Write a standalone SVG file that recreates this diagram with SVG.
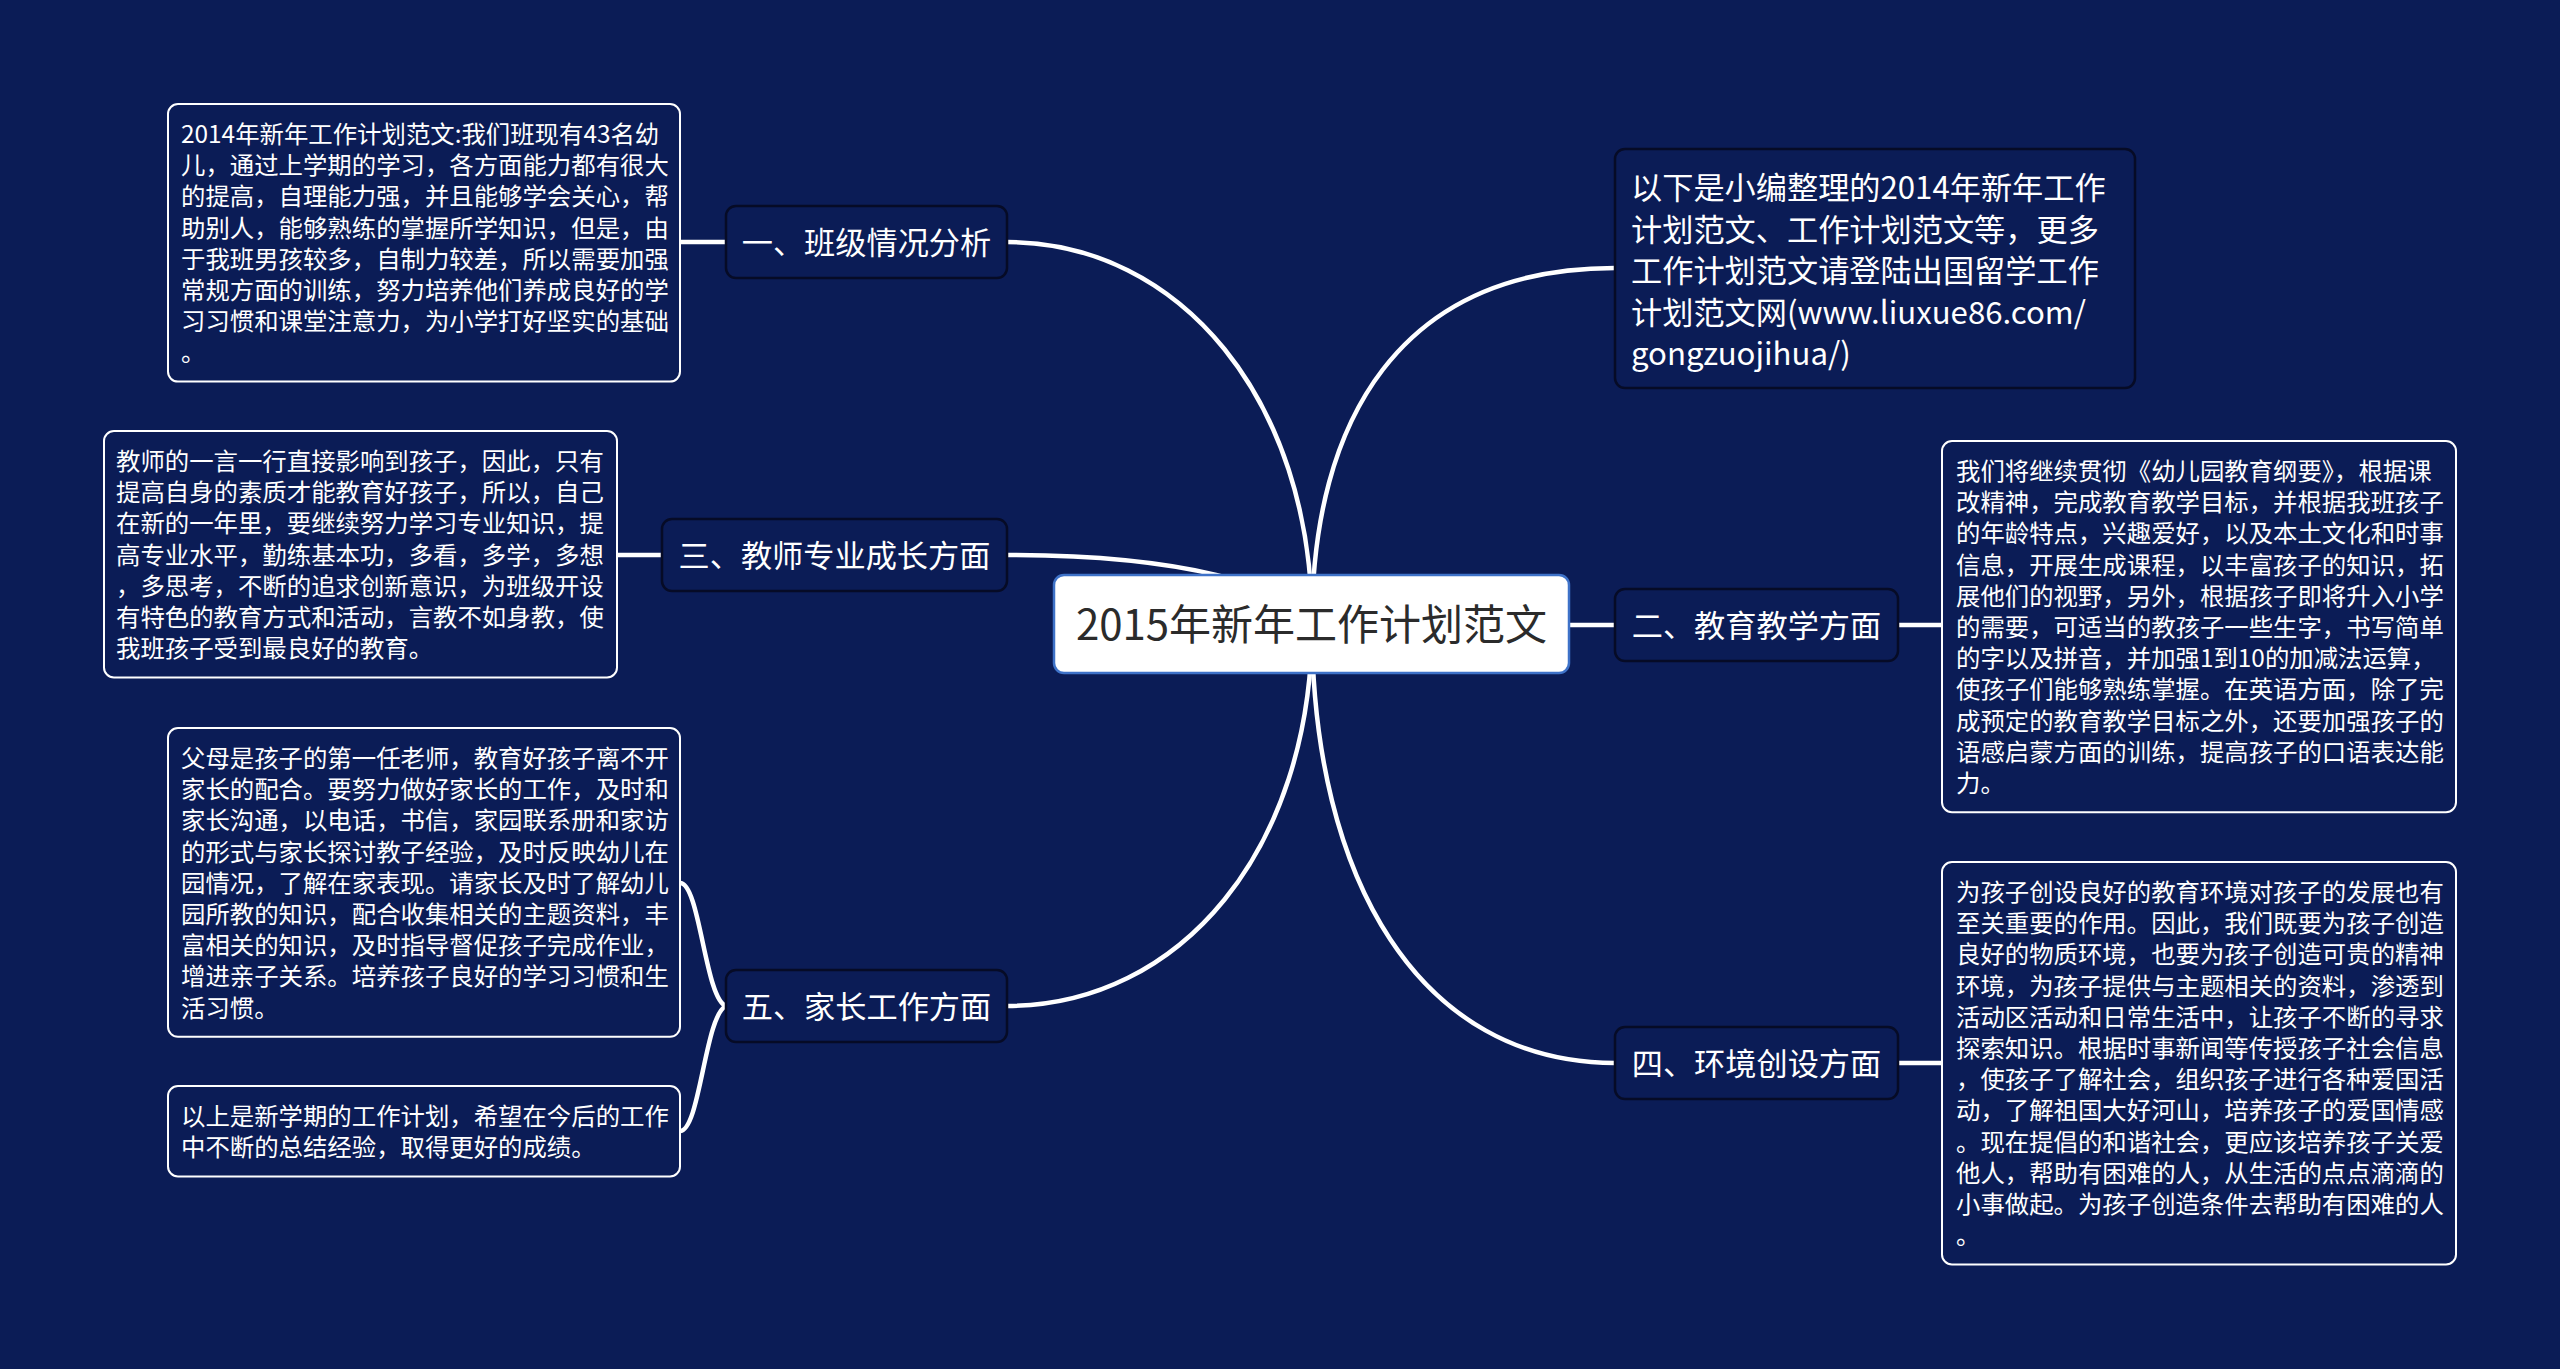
<svg xmlns="http://www.w3.org/2000/svg" width="2560" height="1369" viewBox="0 0 2560 1369">
<style>
.bg{fill:#0b1c56}
.conn{fill:none;stroke:#ffffff;stroke-width:4.5;stroke-linecap:round}
.leaf{fill:#0b1c56;stroke:#ffffff;stroke-width:2}
.branch{fill:#0b1c56;stroke:#060b26;stroke-width:2.5}
.root{fill:#ffffff;stroke:#3e72c8;stroke-width:2.5}
.lt{font-family:"Noto Sans CJK SC","Noto Sans",sans-serif;font-size:24.4px;fill:#ffffff}
.bt{font-family:"Noto Sans CJK SC","Noto Sans",sans-serif;font-size:31.2px;fill:#ffffff}
.rt{font-family:"Noto Sans CJK SC","Noto Sans",sans-serif;font-size:42px;fill:#2b2b2b}
</style>
<rect class="bg" x="0" y="0" width="2560" height="1369"/>
<g id="connectors">
<path class="conn" d="M1312,624 C1312,400 1180,242 1007,242"/>
<path class="conn" d="M1312,624 C1290,585 1180,555 1007,555"/>
<path class="conn" d="M1312,624 C1312,850 1180,1006 1007,1006"/>
<path class="conn" d="M1312,624 C1312,420 1400,268 1615,268"/>
<path class="conn" d="M1560,625 L1615,625"/>
<path class="conn" d="M1312,624 C1312,880 1420,1063 1615,1063"/>
<path class="conn" d="M726,242 L680,242"/>
<path class="conn" d="M662,555 L617,555"/>
<path class="conn" d="M726,1006 C705,999 700,883 680,883"/>
<path class="conn" d="M726,1006 C705,1015 700,1131 680,1131"/>
<path class="conn" d="M1898,625 L1942,625"/>
<path class="conn" d="M1898,1063 L1942,1063"/>
</g>
<g id="root">
<rect class="root" x="1054" y="575" width="515" height="98" rx="10"/>
<text class="rt" x="1311.5" y="640" text-anchor="middle">2015年新年工作计划范文</text>
</g>
<g id="branch1">
<rect class="branch" x="726" y="206" width="281" height="72" rx="10"/>
<text class="bt" x="866.5" y="253.9" text-anchor="middle">一、班级情况分析</text>
</g>
<g id="branch3">
<rect class="branch" x="662" y="519" width="345" height="72" rx="10"/>
<text class="bt" x="834.5" y="566.9" text-anchor="middle">三、教师专业成长方面</text>
</g>
<g id="branch5">
<rect class="branch" x="726" y="970" width="281" height="72" rx="10"/>
<text class="bt" x="866.5" y="1017.9" text-anchor="middle">五、家长工作方面</text>
</g>
<g id="branch2">
<rect class="branch" x="1615" y="589" width="283" height="72" rx="10"/>
<text class="bt" x="1756.5" y="636.9" text-anchor="middle">二、教育教学方面</text>
</g>
<g id="branch4">
<rect class="branch" x="1615" y="1027" width="283" height="72" rx="10"/>
<text class="bt" x="1756.5" y="1074.9" text-anchor="middle">四、环境创设方面</text>
</g>
<g id="intro">
<rect class="branch" x="1615" y="149" width="520" height="239" rx="10"/>
<text class="bt" x="1631" y="198.9"><tspan x="1631">以下是小编整理的2014年新年工作</tspan><tspan x="1631" dy="41.6">计划范文、工作计划范文等，更多</tspan><tspan x="1631" dy="41.6">工作计划范文请登陆出国留学工作</tspan><tspan x="1631" dy="41.6">计划范文网(www.liuxue86.com/</tspan><tspan x="1631" dy="41.6">gongzuojihua/)</tspan></text>
</g>
<g id="leaf1">
<rect class="leaf" x="168" y="104" width="512" height="277.6" rx="10"/>
<text class="lt" x="181" y="142.9"><tspan x="181">2014年新年工作计划范文:我们班现有43名幼</tspan><tspan x="181" dy="31.2">儿，通过上学期的学习，各方面能力都有很大</tspan><tspan x="181" dy="31.2">的提高，自理能力强，并且能够学会关心，帮</tspan><tspan x="181" dy="31.2">助别人，能够熟练的掌握所学知识，但是，由</tspan><tspan x="181" dy="31.2">于我班男孩较多，自制力较差，所以需要加强</tspan><tspan x="181" dy="31.2">常规方面的训练，努力培养他们养成良好的学</tspan><tspan x="181" dy="31.2">习习惯和课堂注意力，为小学打好坚实的基础</tspan><tspan x="181" dy="31.2">。</tspan></text>
</g>
<g id="leaf3">
<rect class="leaf" x="104" y="431" width="513" height="246.4" rx="10"/>
<text class="lt" x="116" y="469.9"><tspan x="116">教师的一言一行直接影响到孩子，因此，只有</tspan><tspan x="116" dy="31.2">提高自身的素质才能教育好孩子，所以，自己</tspan><tspan x="116" dy="31.2">在新的一年里，要继续努力学习专业知识，提</tspan><tspan x="116" dy="31.2">高专业水平，勤练基本功，多看，多学，多想</tspan><tspan x="116" dy="31.2">，多思考，不断的追求创新意识，为班级开设</tspan><tspan x="116" dy="31.2">有特色的教育方式和活动，言教不如身教，使</tspan><tspan x="116" dy="31.2">我班孩子受到最良好的教育。</tspan></text>
</g>
<g id="leaf5a">
<rect class="leaf" x="168" y="728" width="512" height="308.8" rx="10"/>
<text class="lt" x="181" y="766.9"><tspan x="181">父母是孩子的第一任老师，教育好孩子离不开</tspan><tspan x="181" dy="31.2">家长的配合。要努力做好家长的工作，及时和</tspan><tspan x="181" dy="31.2">家长沟通，以电话，书信，家园联系册和家访</tspan><tspan x="181" dy="31.2">的形式与家长探讨教子经验，及时反映幼儿在</tspan><tspan x="181" dy="31.2">园情况，了解在家表现。请家长及时了解幼儿</tspan><tspan x="181" dy="31.2">园所教的知识，配合收集相关的主题资料，丰</tspan><tspan x="181" dy="31.2">富相关的知识，及时指导督促孩子完成作业，</tspan><tspan x="181" dy="31.2">增进亲子关系。培养孩子良好的学习习惯和生</tspan><tspan x="181" dy="31.2">活习惯。</tspan></text>
</g>
<g id="leaf5b">
<rect class="leaf" x="168" y="1086" width="512" height="90.4" rx="10"/>
<text class="lt" x="181" y="1124.9"><tspan x="181">以上是新学期的工作计划，希望在今后的工作</tspan><tspan x="181" dy="31.2">中不断的总结经验，取得更好的成绩。</tspan></text>
</g>
<g id="leaf2">
<rect class="leaf" x="1942" y="441" width="514" height="371.2" rx="10"/>
<text class="lt" x="1956" y="479.9"><tspan x="1956">我们将继续贯彻《幼儿园教育纲要》，根据课</tspan><tspan x="1956" dy="31.2">改精神，完成教育教学目标，并根据我班孩子</tspan><tspan x="1956" dy="31.2">的年龄特点，兴趣爱好，以及本土文化和时事</tspan><tspan x="1956" dy="31.2">信息，开展生成课程，以丰富孩子的知识，拓</tspan><tspan x="1956" dy="31.2">展他们的视野，另外，根据孩子即将升入小学</tspan><tspan x="1956" dy="31.2">的需要，可适当的教孩子一些生字，书写简单</tspan><tspan x="1956" dy="31.2">的字以及拼音，并加强1到10的加减法运算，</tspan><tspan x="1956" dy="31.2">使孩子们能够熟练掌握。在英语方面，除了完</tspan><tspan x="1956" dy="31.2">成预定的教育教学目标之外，还要加强孩子的</tspan><tspan x="1956" dy="31.2">语感启蒙方面的训练，提高孩子的口语表达能</tspan><tspan x="1956" dy="31.2">力。</tspan></text>
</g>
<g id="leaf4">
<rect class="leaf" x="1942" y="862" width="514" height="402.4" rx="10"/>
<text class="lt" x="1956" y="900.9"><tspan x="1956">为孩子创设良好的教育环境对孩子的发展也有</tspan><tspan x="1956" dy="31.2">至关重要的作用。因此，我们既要为孩子创造</tspan><tspan x="1956" dy="31.2">良好的物质环境，也要为孩子创造可贵的精神</tspan><tspan x="1956" dy="31.2">环境，为孩子提供与主题相关的资料，渗透到</tspan><tspan x="1956" dy="31.2">活动区活动和日常生活中，让孩子不断的寻求</tspan><tspan x="1956" dy="31.2">探索知识。根据时事新闻等传授孩子社会信息</tspan><tspan x="1956" dy="31.2">，使孩子了解社会，组织孩子进行各种爱国活</tspan><tspan x="1956" dy="31.2">动，了解祖国大好河山，培养孩子的爱国情感</tspan><tspan x="1956" dy="31.2">。现在提倡的和谐社会，更应该培养孩子关爱</tspan><tspan x="1956" dy="31.2">他人，帮助有困难的人，从生活的点点滴滴的</tspan><tspan x="1956" dy="31.2">小事做起。为孩子创造条件去帮助有困难的人</tspan><tspan x="1956" dy="31.2">。</tspan></text>
</g>
</svg>
